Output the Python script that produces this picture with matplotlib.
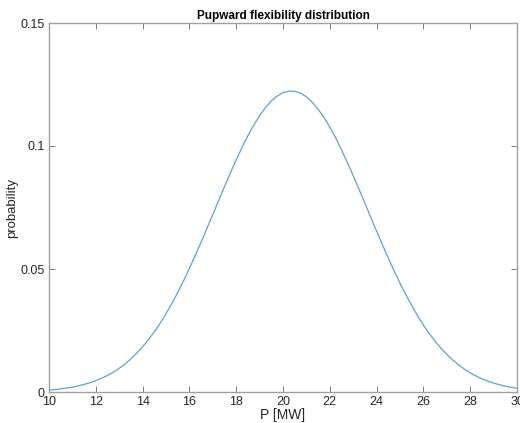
import matplotlib
matplotlib.use("Agg")
import matplotlib.pyplot as plt

# Values (every 0.25 MW)
p_mw = [10.0, 10.25, 10.5, 10.75, 11.0, 11.25, 11.5, 11.75, 12.0, 12.25,
        12.5, 12.75, 13.0, 13.25, 13.5, 13.75, 14.0, 14.25, 14.5, 14.75,
        15.0, 15.25, 15.5, 15.75, 16.0, 16.25, 16.5, 16.75, 17.0, 17.25,
        17.5, 17.75, 18.0, 18.25, 18.5, 18.75, 19.0, 19.25, 19.5, 19.75,
        20.0, 20.25, 20.5, 20.75, 21.0, 21.25, 21.5, 21.75, 22.0, 22.25,
        22.5, 22.75, 23.0, 23.25, 23.5, 23.75, 24.0, 24.25, 24.5, 24.75,
        25.0, 25.25, 25.5, 25.75, 26.0, 26.25, 26.5, 26.75, 27.0, 27.25,
        27.5, 27.75, 28.0, 28.25, 28.5, 28.75, 29.0, 29.25, 29.5, 29.75, 30.0]
probability = [0.00079, 0.00101, 0.00127, 0.00160, 0.00200, 0.00249, 0.00307, 0.00377,
               0.00461, 0.00559, 0.00674, 0.00808, 0.00964, 0.01142, 0.01346, 0.01577,
               0.01836, 0.02126, 0.02446, 0.02798, 0.03183, 0.03599, 0.04046, 0.04522,
               0.05023, 0.05548, 0.06093, 0.06651, 0.07217, 0.07787, 0.08351, 0.08904,
               0.09437, 0.09944, 0.1042, 0.1085, 0.1123, 0.1156, 0.1183, 0.1203,
               0.1217, 0.1223, 0.1222, 0.1215, 0.1200, 0.1178, 0.1150, 0.1116,
               0.1077, 0.1033, 0.09846, 0.09332, 0.08794, 0.08238, 0.07673, 0.07104,
               0.06538, 0.05983, 0.05442, 0.04922, 0.04425, 0.03955, 0.03513, 0.03103,
               0.02725, 0.02379, 0.02065, 0.01781, 0.01528, 0.01303, 0.01105, 0.00931,
               0.00779, 0.00649, 0.00538, 0.00443, 0.00362, 0.00295, 0.00238, 0.00192,
               0.00153]
x_ticks = [10, 12, 14, 16, 18, 20, 22, 24, 26, 28, 30]
y_ticks = [0, 0.05, 0.1, 0.15]
y_tick_labels = ["0", "0.05", "0.1", "0.15"]

plt.rcParams['font.family'] = ['Liberation Sans', 'DejaVu Sans']

fig = plt.figure(figsize=(5.2, 4.23), dpi=100)
ax = fig.add_axes([49/520, 31/423, 468/520, 369/423])
ax.plot(p_mw, probability, color='#5aa2d8', linewidth=0.9)
ax.set_xlim(10, 30)
ax.set_ylim(0, 0.15)
ax.set_xticks(x_ticks)
ax.set_xticklabels([str(t) for t in x_ticks])
ax.set_yticks(y_ticks)
ax.set_yticklabels(y_tick_labels)
ax.tick_params(direction='in', length=4, width=0.7, color='#7a7a7a',
               labelsize=9, labelcolor='#262626', top=True, right=True, pad=3)
for s in ax.spines.values():
    s.set_color('#a0a0a0')
    s.set_linewidth(1.0)
ax.set_title('Pupward flexibility distribution', fontsize=8.5, fontweight='bold',
             color='#000000', pad=3)
ax.set_xlabel('P [MW]', fontsize=10, color='#262626', labelpad=0)
ax.set_ylabel('probability', fontsize=9.5, color='#262626', labelpad=2)
fig.savefig('out.png', dpi=100)
